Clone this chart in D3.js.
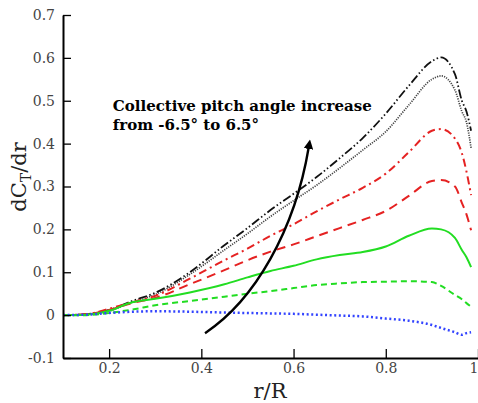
<!DOCTYPE html>
<html>
<head>
<meta charset="utf-8">
<script src="https://cdn.jsdelivr.net/npm/d3@7"></script>
<style>
  body { margin: 0; background: #fff; }
</style>
</head>
<body>
<div id="chart"></div>
<script>
var SERIF = "'DejaVu Serif', serif";

// radial stations r/R, shared by all curves
var rGrid = [0.1, 0.15, 0.2, 0.25, 0.3, 0.375, 0.45, 0.5, 0.55, 0.6, 0.65, 0.7, 0.75, 0.8, 0.85, 0.9, 0.92, 0.95, 0.965, 0.975, 0.985];

// dCT/dr for each collective pitch
var pitchHigh   = [0, 0.002, 0.012, 0.033, 0.052, 0.1, 0.163, 0.203, 0.245, 0.283, 0.322, 0.366, 0.413, 0.47, 0.535, 0.592, 0.601, 0.562, 0.5, 0.475, 0.43];
var pitch2      = [0, 0.002, 0.01, 0.03, 0.048, 0.095, 0.152, 0.19, 0.23, 0.267, 0.303, 0.343, 0.385, 0.428, 0.49, 0.55, 0.558, 0.525, 0.475, 0.45, 0.39];
var pitch3      = [0, 0.002, 0.015, 0.03, 0.045, 0.085, 0.128, 0.155, 0.185, 0.212, 0.242, 0.27, 0.297, 0.33, 0.38, 0.43, 0.434, 0.412, 0.378, 0.335, 0.28];
var pitch4      = [0, 0.002, 0.012, 0.028, 0.04, 0.072, 0.105, 0.128, 0.148, 0.165, 0.184, 0.203, 0.222, 0.243, 0.278, 0.313, 0.315, 0.3, 0.262, 0.235, 0.198];
var pitch5      = [0, 0.001, 0.01, 0.03, 0.038, 0.053, 0.072, 0.088, 0.103, 0.115, 0.13, 0.14, 0.147, 0.16, 0.185, 0.202, 0.2, 0.18, 0.152, 0.135, 0.112];
var pitch6      = [0, 0, 0.005, 0.013, 0.023, 0.033, 0.043, 0.05, 0.056, 0.063, 0.07, 0.074, 0.077, 0.078, 0.079, 0.077, 0.068, 0.047, 0.037, 0.028, 0.02];
var pitchLow    = [0, 0.001, 0.005, 0.008, 0.009, 0.008, 0.006, 0.005, 0.004, 0.003, 0.001, -0.001, -0.003, -0.008, -0.013, -0.023, -0.03, -0.04, -0.046, -0.042, -0.04];

var xMajor = [0.2, 0.4, 0.6, 0.8, 1.0];
var yMajor = [-0.1, 0, 0.1, 0.2, 0.3, 0.4, 0.5, 0.6, 0.7];

// arrow path (cubic, data units) and note
var arrowR = [0.408, 0.516, 0.603, 0.633];
var arrowV = [-0.042, 0.035, 0.198, 0.406];
var noteLines = ["Collective pitch angle increase", "from -6.5\u00b0 to 6.5\u00b0"];
var noteR = 0.208, noteV = [0.476, 0.431];

var W = 478, H = 403;
var svg = d3.select("#chart").append("svg").attr("width", W).attr("height", H);

var x = d3.scaleLinear().domain([0.1, 1.0]).range([63, 478]);
var y = d3.scaleLinear().domain([-0.1, 0.7]).range([358, 15]);

var series = [
  { v: pitchHigh, color: "#111", dash: "9,2.5,1.5,2.5,1.5,2.5", w: 1.8 },
  { v: pitch2,    color: "#444", dash: "1.2,1.2", w: 1.7 },
  { v: pitch3,    color: "#e52222", dash: "8,4,2,4", w: 2 },
  { v: pitch4,    color: "#e52222", dash: "9,6", w: 2 },
  { v: pitch5,    color: "#22dd22", dash: null, w: 2 },
  { v: pitch6,    color: "#22dd22", dash: "6,4", w: 2 },
  { v: pitchLow,  color: "#3344ff", dash: "2,2.6", w: 2.5 }
];

var line = d3.line()
  .x(function(d, i){ return x(rGrid[i]); })
  .y(function(d){ return y(d); })
  .curve(d3.curveMonotoneX);

svg.append("g").selectAll("path")
  .data(series)
  .enter().append("path")
  .attr("fill", "none")
  .attr("stroke", function(d){ return d.color; })
  .attr("stroke-width", function(d){ return d.w; })
  .attr("stroke-dasharray", function(d){ return d.dash; })
  .attr("d", function(d){ return line(d.v); });

// axes, ticks point inward
function minorTicks(lo, hi, step) {
  var out = [];
  for (var k = Math.round(lo / step); k * step <= hi + 1e-9; k++) out.push(+(k * step).toFixed(4));
  return out;
}

function fmt(d) {
  if (d === 0) return "0";
  if (d === 1) return "1";
  return d.toFixed(1);   // plain hyphen for negatives
}

var gx = svg.append("g").attr("transform", "translate(0," + y(-0.1) + ")");
gx.call(d3.axisBottom(x).tickValues(minorTicks(0.1, 1.0, 0.05)).tickSize(-5).tickFormat(""));
gx.call(d3.axisBottom(x).tickValues(xMajor).tickSize(-9).tickSizeOuter(0).tickPadding(5).tickFormat(fmt));
// last label sits on the right edge
gx.selectAll(".tick text").filter(function(d){ return d === 1; }).attr("text-anchor", "end");

var gy = svg.append("g").attr("transform", "translate(" + x(0.1) + ",0)");
gy.call(d3.axisLeft(y).tickValues(minorTicks(-0.1, 0.7, 0.02)).tickSize(-4).tickFormat(""));
gy.call(d3.axisLeft(y).tickValues(yMajor).tickSize(-8).tickSizeOuter(0).tickPadding(8).tickFormat(fmt));

svg.selectAll("g").attr("font-family", null);
svg.selectAll(".domain").attr("stroke", "#000").attr("stroke-width", 2);
svg.selectAll(".tick line").attr("stroke", "#000").attr("stroke-width", 1.3);
svg.selectAll(".tick text")
  .attr("font-family", SERIF)
  .attr("font-size", 14)
  .attr("fill", "#444");

// axis titles
svg.append("text")
  .attr("x", 270).attr("y", 398)
  .attr("text-anchor", "middle")
  .attr("font-family", SERIF)
  .attr("font-size", 21)
  .attr("fill", "#222")
  .text("r/R");

var yt = svg.append("text")
  .attr("transform", "translate(26,177) rotate(-90)")
  .attr("text-anchor", "middle")
  .attr("font-family", SERIF)
  .attr("font-size", 21)
  .attr("fill", "#222");
yt.append("tspan").text("dC");
yt.append("tspan").attr("font-size", 14).attr("dy", 5).text("T");
yt.append("tspan").attr("dy", -5).text("/dr");

// annotation arrow
svg.append("defs").append("marker")
  .attr("id", "head")
  .attr("viewBox", "0 0 10 10")
  .attr("refX", 2).attr("refY", 5)
  .attr("markerWidth", 4).attr("markerHeight", 4)
  .attr("orient", "auto")
  .append("path").attr("d", "M0,0 L10,5 L0,10 z").attr("fill", "#000");

var ap = d3.path();
ap.moveTo(x(arrowR[0]), y(arrowV[0]));
ap.bezierCurveTo(x(arrowR[1]), y(arrowV[1]), x(arrowR[2]), y(arrowV[2]), x(arrowR[3]), y(arrowV[3]) + 6);
svg.append("path")
  .attr("d", ap.toString())
  .attr("fill", "none")
  .attr("stroke", "#000")
  .attr("stroke-width", 2.4)
  .attr("marker-end", "url(#head)");

svg.append("g").selectAll("text")
  .data(noteLines)
  .enter().append("text")
  .attr("x", x(noteR))
  .attr("y", function(d, i){ return y(noteV[i]); })
  .attr("font-family", SERIF)
  .attr("font-size", 15)
  .attr("font-weight", "bold")
  .attr("fill", "#000")
  .text(function(d){ return d; });
</script>
</body>
</html>
